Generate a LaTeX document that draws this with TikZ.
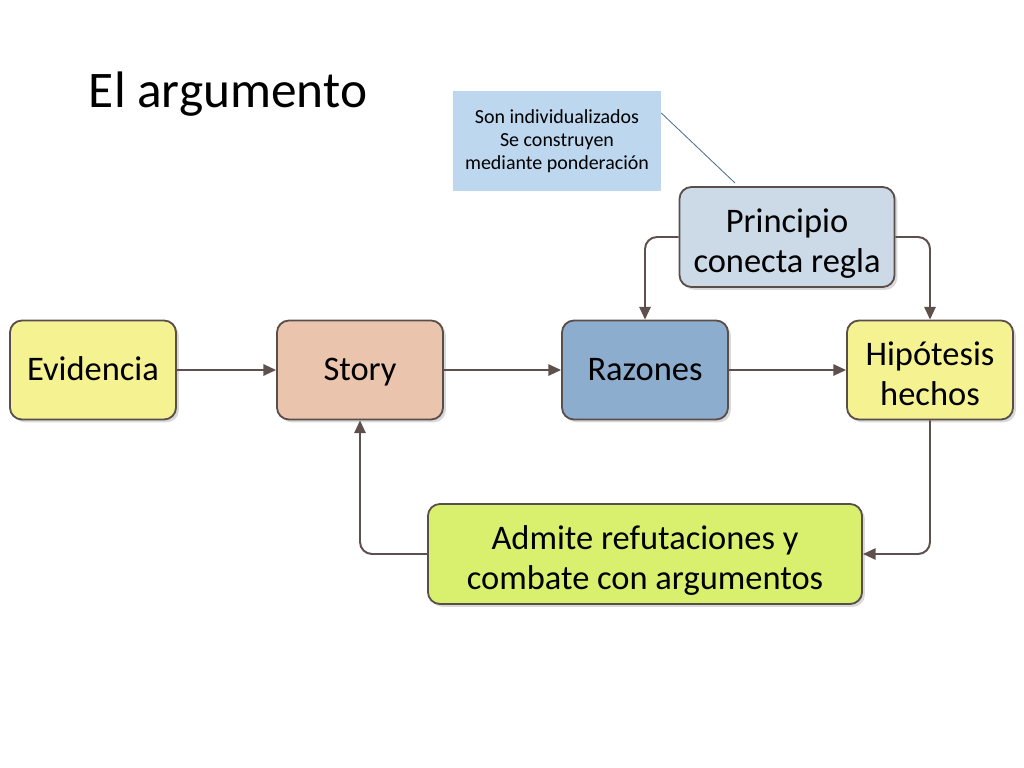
\documentclass[tikz,border=0pt]{standalone}
\usepackage{fontspec}
\setmainfont{Carlito}
\usetikzlibrary{arrows.meta,shadows,positioning}

\definecolor{boxline}{HTML}{5A4E4A}
\definecolor{linkcol}{HTML}{5E514D}
\definecolor{yellowbox}{HTML}{F5F292}
\definecolor{storybox}{HTML}{EBC4AD}
\definecolor{razbox}{HTML}{8CADCD}
\definecolor{princbox}{HTML}{CCDAE8}
\definecolor{admbox}{HTML}{D9F06F}
\definecolor{notebox}{HTML}{BDD7EE}
\definecolor{calloutcol}{HTML}{4F6F8F}

\newcommand{\topgap}{\rule{0pt}{31pt}}

\tikzset{
	box/.style={draw=boxline, line width=1.3pt, rounded corners=0.3cm,
		minimum width=4.15cm, minimum height=2.475cm, align=center, inner ysep=1pt,
		font=\fontsize{24.5}{28.5}\selectfont,
		execute at begin node=\rule{0pt}{24pt}, execute at end node=\strut,
		drop shadow={shadow xshift=2pt, shadow yshift=-2pt, opacity=0.3}},
	link/.style={draw=linkcol, line width=1.4pt, rounded corners=0.3cm,
		-{Triangle[length=9pt,width=8pt]}},
}

\begin{document}
\begin{tikzpicture}[x=0.025cm,y=-0.025cm]
		\useasboundingbox (0,0) rectangle (1024,768);
		%title
		\node[anchor=west, font=\fontsize{36.5}{40}\selectfont] (title) at (84,94){El argumento};
		
		%note
		\node[fill=notebox, minimum width=5.2cm, minimum height=2.5cm, align=center,
			font=\fontsize{14.2}{16.4}\selectfont] (note) at (557,141)
			{Son individualizados\\Se construyen\\mediante ponderación};
		
		%main row
		\node[box, fill=yellowbox] (evid) at (93,370){Evidencia};
		\node[box, fill=storybox] (story) at (360,370){Story};
		\node[box, fill=razbox] (raz) at (645,370){Razones};
		\node[box, fill=yellowbox] (hip) at (930,370){\topgap Hipótesis\\hechos};
		\node[box, fill=princbox, minimum width=5.375cm, minimum height=2.5cm] (princ) at (787,237){\topgap Principio\\conecta regla};
		\node[box, fill=admbox, minimum width=10.85cm, minimum height=2.5cm] (adm) at (645,554){\topgap Admite refutaciones y\\combate con argumentos};
		
		%links
		\draw[link] (evid) -- (story);
		\draw[link] (story) -- (raz);
		\draw[link] (raz) -- (hip);
		\draw[link] (princ.west) -| (raz.north);
		\draw[link] (princ.east) -| (hip.north);
		\draw[link] (hip.south) |- (adm.east);
		\draw[link] (adm.west) -| (story.south);
		
		%callout
		\coordinate (pin) at (735,183);
		\draw[calloutcol, line width=0.6pt] (note.15) -- (pin);
\end{tikzpicture}
\end{document}
